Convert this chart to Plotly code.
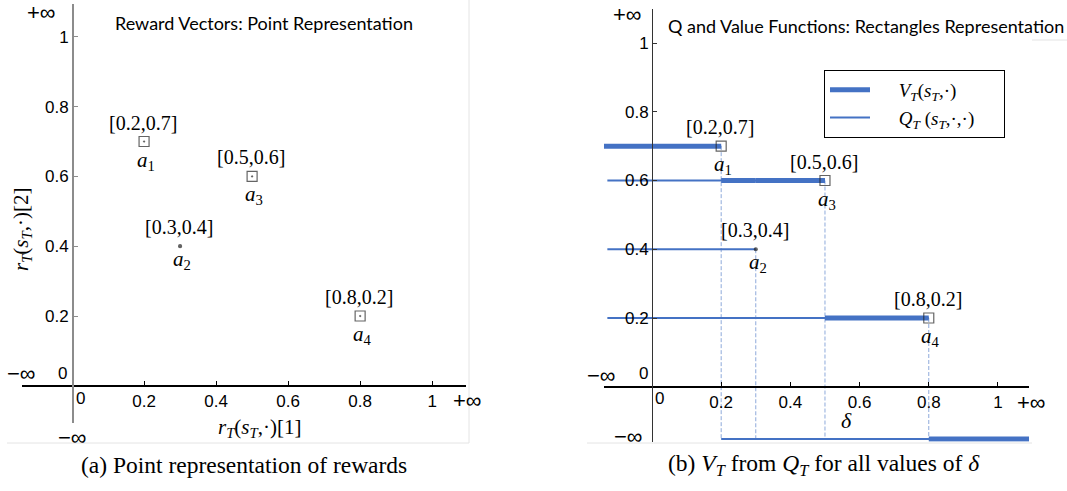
import plotly.graph_objects as go

# ---------------- data ----------------
action_ids = ["1", "2", "3", "4"]
r1 = [0.2, 0.3, 0.5, 0.8]          # r_T(s_T, a)[1]
r2 = [0.7, 0.4, 0.6, 0.2]          # r_T(s_T, a)[2]
tick_vals = [0.2, 0.4, 0.6, 0.8, 1]
tick_text = ["0.2", "0.4", "0.6", "0.8", "1"]

# ---------------- styling / layout helpers ----------------
W, H = 1067, 491


def px(x):
    return x / W


def py(y):
    return (H - y) / H


BLUE = "#4472C4"
DASHC = "#8EAADB"
MARK = "#222222"
SERIF = "Liberation Serif"
SANS = "Liberation Sans"
TFONT = "Lato"
NB = "\u00a0"

L_XR = [-0.139, 1.094]
L_YR = [-0.106, 1.094]
R_XR = [-0.139, 1.09]
R_YR = [-0.16, 1.099]
NEG_INF = -0.152     # display level of -inf in panel (b)

n = len(r1)
dominated = [any(j != i and r1[j] >= r1[i] and r2[j] >= r2[i] for j in range(n)) for i in range(n)]

fig = go.Figure()

# ---------------- panel (a) ----------------
fig.add_trace(go.Scatter(
    x=r1, y=r2, mode="markers", xaxis="x", yaxis="y", showlegend=False,
    marker=dict(symbol=["circle" if d else "square-open-dot" for d in dominated],
                size=[3 if d else 10 for d in dominated], color=MARK,
                line=dict(color=MARK, width=1.2)),
    hoverinfo="skip"))

# ---------------- panel (b) ----------------
# value function: upper envelope of the Q rectangles
order = sorted(range(n), key=lambda i: r1[i])
vx, vy = [], []
left = R_XR[0]
for k, i in enumerate(order):
    level = max(r2[j] for j in order[k:])
    vx += [left, r1[i], None]
    vy += [level, level, None]
    left = r1[i]
vx += [max(r1), R_XR[1]]
vy += [NEG_INF, NEG_INF]

qx, qy = [], []
for i in range(n):
    qx += [R_XR[0] + 0.01, r1[i], None]
    qy += [r2[i], r2[i], None]
qx += [min(r1), R_XR[1]]
qy += [NEG_INF, NEG_INF]

dx, dy = [], []
for i in range(n):
    dx += [r1[i], r1[i], None]
    dy += [r2[i], NEG_INF, None]

fig.add_trace(go.Scatter(x=dx, y=dy, mode="lines", xaxis="x2", yaxis="y2", showlegend=False,
                         line=dict(color=DASHC, width=1, dash="4px,2px"), hoverinfo="skip"))
fig.add_trace(go.Scatter(
    x=vx, y=vy, mode="lines", xaxis="x2", yaxis="y2",
    name=NB * 5 + "<i>V</i><sub><i>T</i></sub>(<i>s</i><sub><i>T</i></sub>,·)" + NB * 5,
    line=dict(color=BLUE, width=5), hoverinfo="skip"))
fig.add_trace(go.Scatter(
    x=qx, y=qy, mode="lines", xaxis="x2", yaxis="y2",
    name=NB * 5 + "<i>Q</i><sub><i>T</i></sub> (<i>s</i><sub><i>T</i></sub>,·,·)" + NB * 5,
    line=dict(color=BLUE, width=2), hoverinfo="skip"))
fig.add_trace(go.Scatter(
    x=r1, y=r2, mode="markers", xaxis="x2", yaxis="y2", showlegend=False,
    marker=dict(symbol=["circle" if d else "square-open" for d in dominated],
                size=[3 if d else 10 for d in dominated], color=MARK,
                line=dict(color=MARK, width=1.2)),
    hoverinfo="skip"))

# ---------------- annotations ----------------
ann = []


def txt(text, x, y, size, family=SERIF, **kw):
    ann.append(dict(text=text, x=px(x), y=py(y), xref="paper", yref="paper", showarrow=False,
                    xanchor="center", yanchor="middle",
                    font=dict(family=family, size=size, color="black"), **kw))


for xa, ya in (("x", "y"), ("x2", "y2")):
    for i in range(n):
        ann.append(dict(text=f"[{r1[i]:.1f},{r2[i]:.1f}]", x=r1[i], y=r2[i], xref=xa, yref=ya,
                        showarrow=False, yshift=19, xshift=-1,
                        font=dict(family=SERIF, size=20, color="black")))
        ann.append(dict(text=f"<i>a</i><sub>{action_ids[i]}</sub>", x=r1[i], y=r2[i], xref=xa, yref=ya,
                        showarrow=False, yshift=-14 if dominated[i] else -19, xshift=2,
                        font=dict(family=SERIF, size=21, color="black")))

# panel (a) texts
txt("Reward Vectors: Point Representation", 264, 23, 18, TFONT)
txt("+∞", 41, 13, 22, SANS)
txt("−∞", 21, 373, 22, SANS)
txt("0", 62, 373, 17, SANS)
txt("0", 80, 398, 17, SANS)
txt("+∞", 467, 400, 22, SANS)
txt("−∞", 72, 437, 22, SANS)
txt("<i>r</i><sub><i>T</i></sub>(<i>s</i><sub><i>T</i></sub>,·)[1]", 259, 428, 21)
txt("<i>r</i><sub><i>T</i></sub>(<i>s</i><sub><i>T</i></sub>,·)[2]", 22, 230, 21, textangle=-90)
txt("(a) Point representation of rewards", 244, 465, 23.5)

# panel (b) texts
txt("Q and Value Functions: Rectangles Representation", 866, 26, 18, TFONT)
txt("+∞", 627, 14, 22, SANS)
txt("−∞", 601, 375, 22, SANS)
txt("0", 643, 373, 17, SANS)
txt("0", 659, 398, 17, SANS)
txt("+∞", 1031, 402, 22, SANS)
txt("<i>δ</i>", 846, 420, 22)
txt("−∞", 628, 436, 22, SANS)
txt("(b) <i>V</i><sub><i>T</i></sub> from <i>Q</i><sub><i>T</i></sub> for all values of <i>δ</i>",
    824, 465, 23.5)

# faint page frame remnants
shapes = []
for (x0, y0, x1, y1) in [(469, 0, 469, 443), (7, 443, 469, 443), (587, 443, 1032, 443), (1032, 40, 1067, 40)]:
    shapes.append(dict(type="line", xref="paper", yref="paper", x0=px(x0), y0=py(y0), x1=px(x1), y1=py(y1),
                       line=dict(color="#e4e4e4", width=1)))


def xaxis(rng, dom, pos, width=2):
    return dict(range=rng, domain=dom, anchor="free", position=pos, showline=True, linecolor="black",
                linewidth=width, ticks="inside", ticklen=4, tickcolor="black", tickwidth=1,
                tickvals=tick_vals, ticktext=tick_text, tickfont=dict(family=SANS, size=17, color="black"),
                showgrid=False, zeroline=False, fixedrange=True, automargin=False)


def yaxis(rng, dom, pos, color, width):
    return dict(range=rng, domain=dom, anchor="free", position=pos, showline=True, linecolor=color,
                linewidth=width, ticks="inside", ticklen=4, tickcolor=color, tickwidth=1,
                tickvals=tick_vals, ticktext=tick_text, tickfont=dict(family=SANS, size=17, color="black"),
                showgrid=False, zeroline=False, fixedrange=True, automargin=False)


fig.update_layout(
    width=W, height=H, margin=dict(l=0, r=0, t=0, b=0, autoexpand=False),
    paper_bgcolor="white", plot_bgcolor="rgba(0,0,0,0)",
    xaxis=xaxis(L_XR, [px(22), px(466)], py(385.8)),
    yaxis=yaxis(L_YR, [py(422.8), py(4)], px(72), "#8c8c8c", 1.5),
    xaxis2=xaxis(R_XR, [px(603.9), px(1029.1)], py(386.75)),
    yaxis2=yaxis(R_YR, [py(441.75), py(9)], px(652), "#333333", 1),
    showlegend=True,
    legend=dict(x=px(824), y=py(70), xanchor="left", yanchor="top", bgcolor="white",
                bordercolor="black", borderwidth=1, font=dict(family=SERIF, size=19, color="black"),
                tracegroupgap=0, itemwidth=40),
    annotations=ann, shapes=shapes,
)

fig.write_html("out.html", config={"displayModeBar": False, "staticPlot": True},
               post_script="document.body.style.margin='0px';document.body.style.overflow='hidden';")
